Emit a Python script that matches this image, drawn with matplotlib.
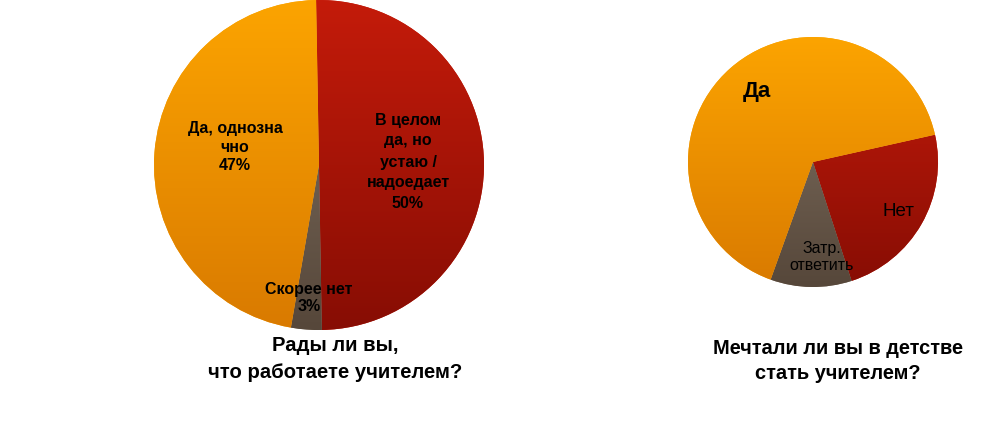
import numpy as np
import matplotlib.pyplot as plt
from matplotlib.colors import LinearSegmentedColormap

# left pie: "Рады ли вы, что работаете учителем?"
left_labels = ['В целом\nда, но\nустаю /\nнадоедает', 'Скорее нет', 'Да, однозна\nчно']
left_values = [50, 3, 47]
left_pct = ['50%', '3%', '47%']

# right pie: "Мечтали ли вы в детстве стать учителем?"
right_labels = ['Нет', 'Затр.\nответить', 'Да']
right_values = [23.5, 10.5, 66]

# top / bottom colours of each gradient
red = ('#c41b0a', '#870d04')
grey = ('#857565', '#56473a')
orange = ('#fca400', '#d97a00')

plt.rcParams['font.family'] = ['Liberation Sans', 'DejaVu Sans']

fig = plt.figure(figsize=(9.95, 4.24), dpi=100)
ax = fig.add_axes([0, 0, 1, 1])


def gradient_pie(values, center, radius, startangle, colors):
    wedges, _ = ax.pie(values, center=center, radius=radius, startangle=startangle,
                       counterclock=False, colors=[c[0] for c in colors],
                       wedgeprops=dict(linewidth=0))
    grad = np.linspace(0, 1, 256).reshape(-1, 1)
    cx, cy = center
    for w, c in zip(wedges, colors):
        cmap = LinearSegmentedColormap.from_list('g', [c[0], c[1]])
        im = ax.imshow(grad, cmap=cmap, aspect='auto', origin='upper',
                       extent=[cx - radius, cx + radius, cy - radius, cy + radius],
                       zorder=2)
        im.set_clip_path(w)
    return wedges


gradient_pie(left_values, (319, 259), 165, 91, [red, grey, orange])
gradient_pie(right_values, (813, 262), 125, 12.6, [red, grey, orange])

# left labels
ax.text(408, 424 - 162, left_labels[0] + '\n' + left_pct[0], ha='center', va='center',
        fontsize=11.5, fontweight='bold', linespacing=1.5, zorder=3)
ax.text(309, 424 - 298, left_labels[1] + '\n' + left_pct[1], ha='center', va='center',
        fontsize=11.5, fontweight='bold', linespacing=1.2, zorder=3)
ax.text(235, 424 - 147, left_labels[2] + '\n' + left_pct[2], ha='center', va='center',
        fontsize=11.5, fontweight='bold', linespacing=1.3, zorder=3)

# right labels
ax.text(757, 424 - 91, right_labels[2], ha='center', va='center',
        fontsize=16, fontweight='bold', zorder=3)
ax.text(899, 424 - 212, right_labels[0], ha='center', va='center',
        fontsize=13.5, zorder=3)
ax.text(822, 424 - 257, right_labels[1], ha='center', va='center',
        fontsize=11.5, linespacing=1.2, zorder=3)

# titles
ax.text(335, 424 - 359, 'Рады ли вы,\nчто работаете учителем?', ha='center', va='center',
        fontsize=14.6, fontweight='bold', linespacing=1.5)
ax.text(838, 424 - 361, 'Мечтали ли вы в детстве\nстать учителем?', ha='center', va='center',
        fontsize=14.4, fontweight='bold', linespacing=1.4)

ax.set_xlim(0, 995)
ax.set_ylim(0, 424)
ax.set_aspect('equal')
ax.axis('off')

plt.savefig('out.png', dpi=100)
